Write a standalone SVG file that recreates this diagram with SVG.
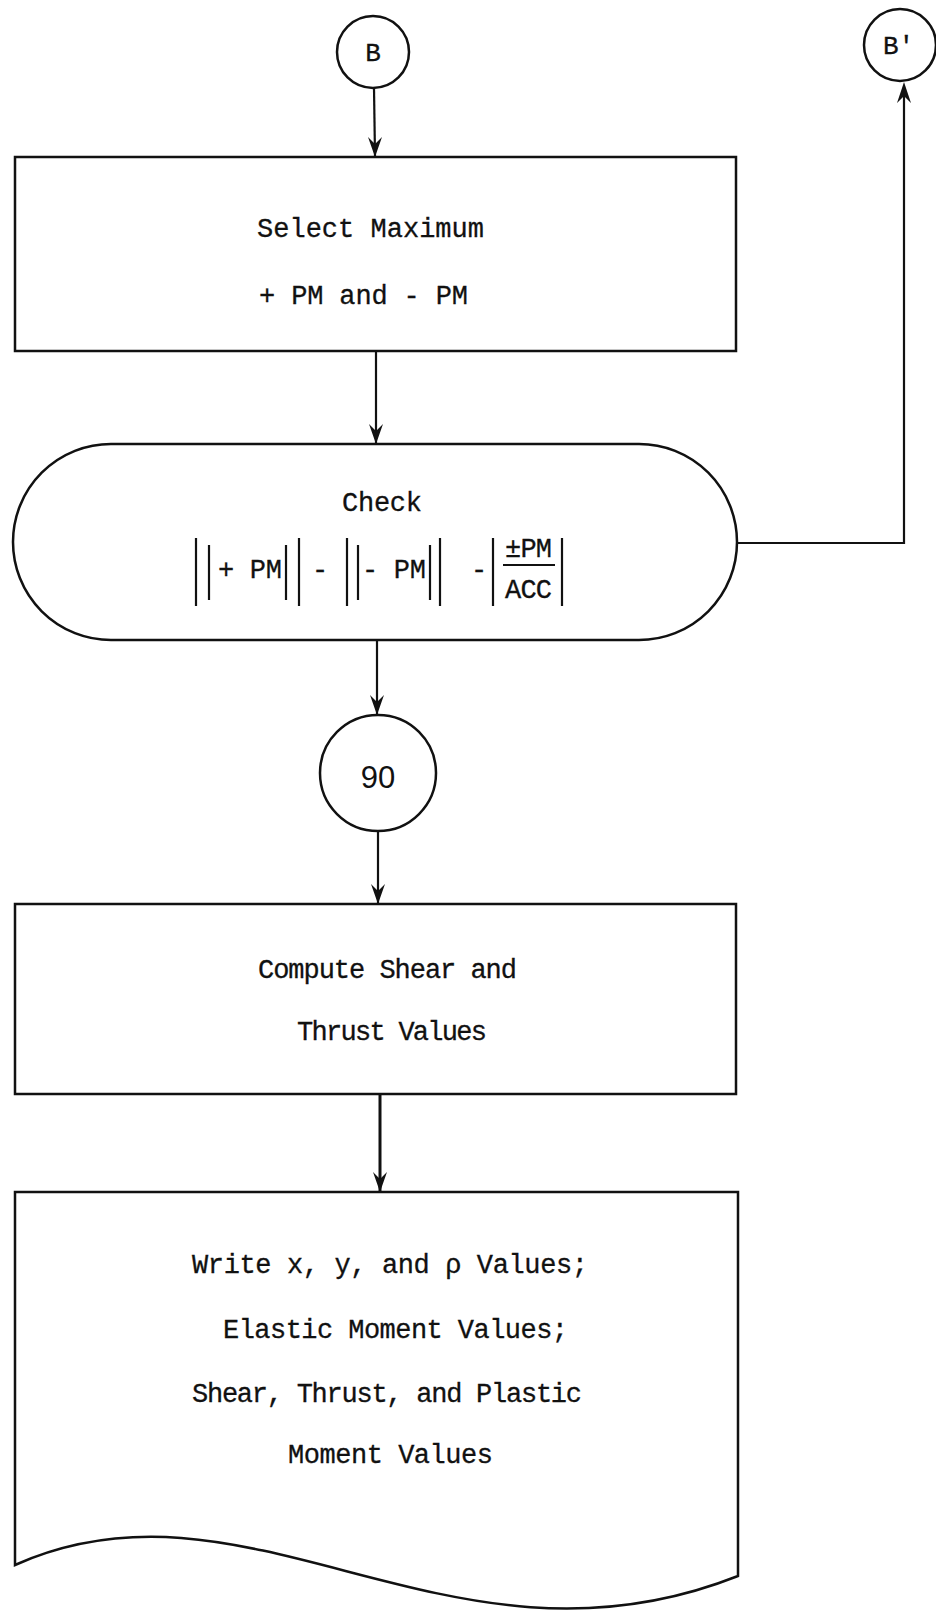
<svg xmlns="http://www.w3.org/2000/svg" width="936" height="1611" viewBox="0 0 936 1611">
<style>
.shape{fill:none;stroke:#111;stroke-width:2.5}
.conn{fill:none;stroke:#111;stroke-width:2.2}
.t{font-family:"Liberation Mono","Courier New",monospace;font-size:27px;fill:#111;stroke:#111;stroke-width:0.3}
.bar{stroke:#111;stroke-width:2.2}
</style>
<defs>
<marker id="arrdown" markerWidth="14" markerHeight="20" refX="7" refY="19" orient="0" markerUnits="userSpaceOnUse" viewBox="0 0 14 20">
<path d="M0,0 L7,7 L14,0 L7,20 Z" fill="#111"/>
</marker>
</defs>
<rect width="936" height="1611" fill="#fff"/>
<g id="connectors">
<line class="conn" x1="374" y1="88" x2="375" y2="156" marker-end="url(#arrdown)"/>
<line class="conn" x1="376" y1="351" x2="376" y2="443" marker-end="url(#arrdown)"/>
<line class="conn" x1="377" y1="640" x2="377" y2="714" marker-end="url(#arrdown)"/>
<line class="conn" x1="378" y1="831" x2="378" y2="903" marker-end="url(#arrdown)"/>
<line class="conn" x1="380" y1="1094" x2="380" y2="1191" style="stroke-width:3" marker-end="url(#arrdown)"/>
<polyline class="conn" points="737,543 904,543 904,90"/>
<path d="M897,103 L904,96 L911,103 L904,82 Z" fill="#111"/>
</g>
<g id="nodeB">
<circle class="shape" cx="373" cy="52" r="36"/>
<text class="t" x="373" y="61" text-anchor="middle" style="font-size:26px">B</text>
</g>
<g id="nodeBprime">
<circle class="shape" cx="900" cy="45" r="36"/>
<text class="t" x="883" y="54" style="font-size:26px">B'</text>
</g>
<g id="selectMax">
<rect class="shape" x="15" y="157" width="721" height="194"/>
<text class="t" x="257" y="237" textLength="227">Select Maximum</text>
<text class="t" x="259" y="304" textLength="209">+ PM and - PM</text>
</g>
<g id="check">
<rect class="shape" x="13" y="444" width="724" height="196" rx="98" ry="98"/>
<text class="t" x="342" y="511" textLength="80">Check</text>
<line class="bar" x1="196" y1="538" x2="196" y2="606"/>
<line class="bar" x1="209" y1="545" x2="209" y2="600"/>
<text class="t" x="218" y="578" textLength="64">+ PM</text>
<line class="bar" x1="286" y1="545" x2="286" y2="600"/>
<line class="bar" x1="299" y1="538" x2="299" y2="606"/>
<text class="t" x="320" y="578" text-anchor="middle">-</text>
<line class="bar" x1="347" y1="538" x2="347" y2="606"/>
<line class="bar" x1="358" y1="545" x2="358" y2="600"/>
<text class="t" x="362" y="578" textLength="64">- PM</text>
<line class="bar" x1="430" y1="545" x2="430" y2="600"/>
<line class="bar" x1="440" y1="538" x2="440" y2="606"/>
<text class="t" x="479" y="578" text-anchor="middle">-</text>
<line class="bar" x1="493" y1="538" x2="493" y2="606"/>
<text class="t" x="505" y="557" textLength="47">±PM</text>
<line class="bar" x1="503" y1="565" x2="555" y2="565"/>
<text class="t" x="505" y="598" textLength="47">ACC</text>
<line class="bar" x1="562" y1="538" x2="562" y2="606"/>
</g>
<g id="node90">
<circle class="shape" cx="378" cy="773" r="58"/>
<text x="378" y="788" text-anchor="middle" style="font-family:'Liberation Sans',Arial,sans-serif;font-size:31px;fill:#111">90</text>
</g>
<g id="computeShear">
<rect class="shape" x="15" y="904" width="721" height="190"/>
<text class="t" x="258" y="978" textLength="259">Compute Shear and</text>
<text class="t" x="297" y="1040" textLength="190">Thrust Values</text>
</g>
<g id="writeDoc">
<path class="shape" d="M15,1192 L738,1192 L738,1576 C450,1690 250,1460 15,1565 Z"/>
<text class="t" x="192" y="1273" textLength="396">Write x, y, and ρ Values;</text>
<text class="t" x="223" y="1338" textLength="345">Elastic Moment Values;</text>
<text class="t" x="192" y="1402" textLength="390">Shear, Thrust, and Plastic</text>
<text class="t" x="288" y="1463" textLength="205">Moment Values</text>
</g>
</svg>
